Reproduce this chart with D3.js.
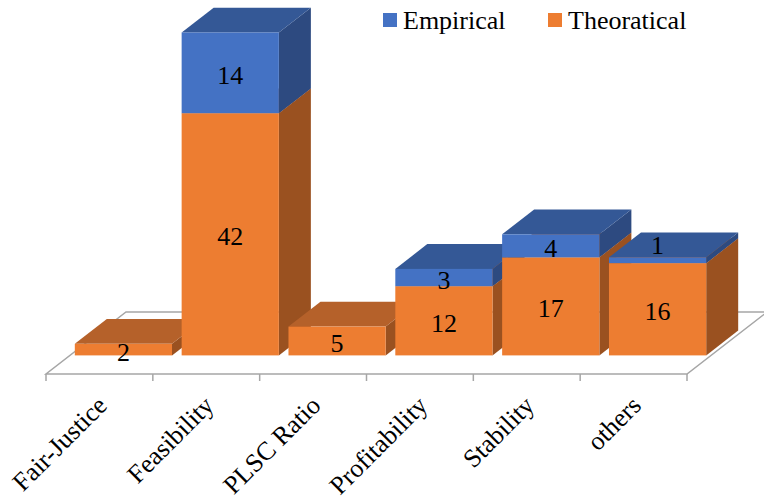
<!DOCTYPE html>
<html>
<head>
<meta charset="utf-8">
<script src="https://cdn.jsdelivr.net/npm/d3@7"></script>
<style>
  html, body { margin: 0; padding: 0; background: #ffffff; }
  svg { display: block; }
</style>
</head>
<body>
<svg id="chart" width="764" height="501"></svg>
<script>
// Data
const categories = ["Fair-Justice", "Feasibility", "PLSC Ratio", "Profitability", "Stability", "others"];
const theoretical = [2, 42, 5, 12, 17, 16];
const empirical = [0, 14, 0, 3, 4, 1];
const seriesNames = ["Empirical", "Theoratical"];
const yMax = 60;

const FONT = "'Liberation Serif', 'Times New Roman', Times, serif";

// Colours: front, top, side faces of each series
const palette = {
  theoretical: { front: "#ED7D31", top: "#B5612A", side: "#9A5120" },
  empirical:   { front: "#4472C4", top: "#345896", side: "#2D4A80" }
};

const svg = d3.select("#chart");

// Floor geometry (oblique projection)
const floorLeft = 46, floorRight = 687, floorY = 374;
const depthVec = [80, -62];          // full floor depth offset
const barFront = 0.3, barBack = 0.7; // bar position within the floor depth

const x = d3.scaleBand()
  .domain(categories)
  .range([floorLeft, floorRight])
  .paddingInner(0.09)
  .paddingOuter(0.045);

const baseShift = [depthVec[0] * barFront, depthVec[1] * barFront];
const barDepth = [depthVec[0] * (barBack - barFront), depthVec[1] * (barBack - barFront)];
const baseY = floorY + baseShift[1];

const y = d3.scaleLinear().domain([0, yMax]).range([baseY, baseY - 346]);

// Floor plane
const floorPts = [
  [floorLeft, floorY],
  [floorRight, floorY],
  [floorRight + depthVec[0], floorY + depthVec[1]],
  [floorLeft + depthVec[0], floorY + depthVec[1]]
];
svg.append("polygon")
  .attr("points", floorPts.map(p => p.join(",")).join(" "))
  .attr("fill", "#ffffff")
  .attr("stroke", "#A6A6A6")
  .attr("stroke-width", 1.5);

// Category tick marks along the front edge of the floor
const step = x.step();
const tickXs = d3.range(categories.length + 1).map(i => floorLeft + i * step);
svg.append("g").selectAll("line")
  .data(tickXs)
  .join("line")
  .attr("x1", d => d).attr("x2", d => d)
  .attr("y1", floorY).attr("y2", floorY + 7)
  .attr("stroke", "#A6A6A6")
  .attr("stroke-width", 1.5);

// Stacked data
const rows = categories.map((c, i) => ({ category: c, theoretical: theoretical[i], empirical: empirical[i] }));
const stack = d3.stack().keys(["theoretical", "empirical"]);
const layers = stack(rows);

function poly(pts) { return pts.map(p => p[0].toFixed(2) + "," + p[1].toFixed(2)).join(" "); }

const barsG = svg.append("g");
const labelsG = svg.append("g");

categories.forEach((cat, i) => {
  const x0 = x(cat) + baseShift[0];
  const w = x.bandwidth();
  const g = barsG.append("g");
  layers.forEach(layer => {
    const seg = layer[i];
    const v0 = seg[0], v1 = seg[1];
    if (v1 - v0 <= 0) return;
    const col = palette[layer.key];
    const yT = y(v1), yB = y(v0);
    const [dx, dy] = barDepth;
    // side face
    g.append("polygon")
      .attr("points", poly([[x0 + w, yT], [x0 + w + dx, yT + dy], [x0 + w + dx, yB + dy], [x0 + w, yB]]))
      .attr("fill", col.side);
    // top face
    g.append("polygon")
      .attr("points", poly([[x0, yT], [x0 + w, yT], [x0 + w + dx, yT + dy], [x0 + dx, yT + dy]]))
      .attr("fill", col.top);
    // front face
    g.append("rect")
      .attr("x", x0).attr("y", yT)
      .attr("width", w).attr("height", yB - yT)
      .attr("fill", col.front);

    // value label centred on the segment; thin segments carry it on the top face
    let ly = (yT + yB) / 2 + 2;
    if (yB - yT < 10) ly = yT + dy / 2;
    labelsG.append("text")
      .attr("x", x0 + w / 2)
      .attr("y", ly)
      .attr("dy", "0.35em")
      .attr("text-anchor", "middle")
      .attr("font-family", FONT)
      .attr("font-size", 26)
      .attr("fill", "#000")
      .text(layer.key === "theoretical" ? theoretical[i] : empirical[i]);
  });
});

// Category labels, rotated
svg.append("g").selectAll("text")
  .data(categories)
  .join("text")
  .attr("transform", d => `translate(${x(d) + x.bandwidth() / 2 - 4},${floorY + 20}) rotate(-45)`)
  .attr("text-anchor", "end")
  .attr("dy", "0.71em")
  .attr("font-family", FONT)
  .attr("font-size", 26)
  .attr("fill", "#000")
  .text(d => d);

// Legend
const legendItems = [
  { name: seriesNames[0], color: palette.empirical.front, x: 383 },
  { name: seriesNames[1], color: palette.theoretical.front, x: 548 }
];
const lg = svg.append("g");
legendItems.forEach(item => {
  lg.append("rect")
    .attr("x", item.x).attr("y", 13)
    .attr("width", 14).attr("height", 14)
    .attr("fill", item.color);
  lg.append("text")
    .attr("x", item.x + 20).attr("y", 29)
    .attr("font-family", FONT)
    .attr("font-size", 26)
    .attr("fill", "#000")
    .text(item.name);
});
</script>
</body>
</html>
